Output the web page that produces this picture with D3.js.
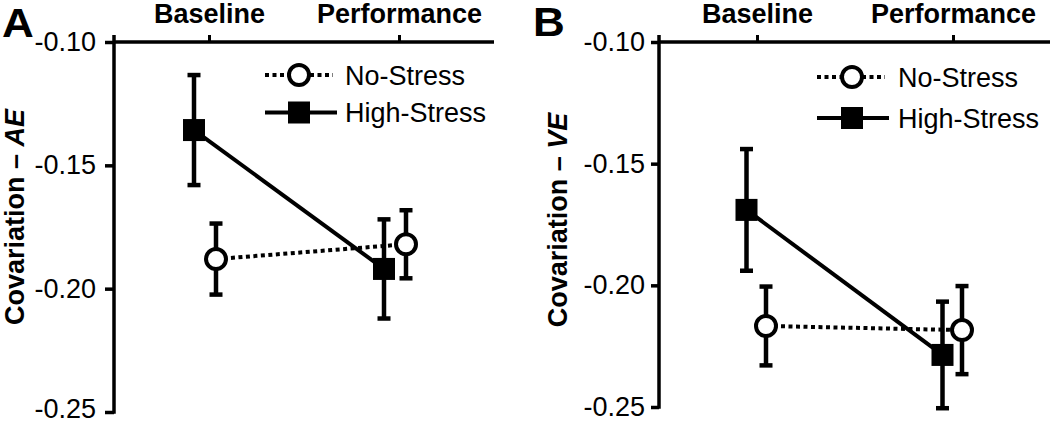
<!DOCTYPE html>
<html><head><meta charset="utf-8">
<script src="https://cdn.jsdelivr.net/npm/d3@7"></script>
<style>
body{margin:0;background:#fff}
text{font-family:"Liberation Sans",Arial,Helvetica,sans-serif;fill:#000}
</style>
</head><body>
<svg id="chart" width="1050" height="424"></svg>
<script>
// ---- data ----
const categories = ["Baseline", "Performance"];
const seriesNames = ["No-Stress", "High-Stress"];
const yTickValues = [-0.10, -0.15, -0.20, -0.25];
const aeNoStress = [-0.188, -0.182];
const aeNoStressErr = [0.0144, 0.0138];
const aeHighStress = [-0.1357, -0.192];
const aeHighStressErr = [0.0223, 0.0201];
const veNoStress = [-0.2167, -0.2184];
const veNoStressErr = [0.0162, 0.0181];
const veHighStress = [-0.169, -0.2286];
const veHighStressErr = [0.025, 0.0219];

// ---- layout ----
const panels = [
  {letter:"A", measure:"AE", ns:aeNoStress, nsErr:aeNoStressErr, hs:aeHighStress, hsErr:aeHighStressErr,
   axisX:114, top:42, bottom:412, right:494, cats:[209,399], dodgeHS:-15, dodgeNS:7,
   yTick:9, yPad:9, titleX:24, titleY:217, letterX:2, letterY:37,
   legX:265, legCircle:299, legTextX:345, legY:[75,112.5]},
  {letter:"B", measure:"VE", ns:veNoStress, nsErr:veNoStressErr, hs:veHighStress, hsErr:veHighStressErr,
   axisX:659, top:42, bottom:407, right:1050, cats:[757,953], dodgeHS:-10.5, dodgeNS:9,
   yTick:8, yPad:6, titleX:567, titleY:220, letterX:533, letterY:36,
   legX:817, legCircle:852, legTextX:898, legY:[77,118]}
];

const svg = d3.select("#chart");
svg.append("rect").attr("width",1050).attr("height",424).attr("fill","#fff");

panels.forEach(p => {
  const g = svg.append("g");
  const x = d3.scalePoint().domain(categories).range(p.cats);
  const y = d3.scaleLinear().domain([-0.10, -0.25]).range([p.top, p.bottom]);

  // top axis line
  g.append("line").attr("x1", p.axisX).attr("x2", p.right).attr("y1", p.top).attr("y2", p.top)
    .attr("stroke","#000").attr("stroke-width",3.5);
  // y axis line (extends above as tick)
  g.append("line").attr("x1", p.axisX).attr("x2", p.axisX).attr("y1", p.top-7).attr("y2", p.bottom+1.75)
    .attr("stroke","#000").attr("stroke-width",3.5);

  const xAxis = g.append("g").attr("transform",`translate(0,${p.top})`)
    .call(d3.axisTop(x).tickSize(7).tickPadding(12));
  xAxis.select(".domain").remove();
  xAxis.selectAll(".tick line").attr("stroke","#000").attr("stroke-width",3);
  xAxis.selectAll(".tick text").attr("font-size",27).attr("font-weight","bold")
    .attr("font-family",'"Liberation Sans",Arial,sans-serif').attr("fill","#000");

  const yAxis = g.append("g").attr("transform",`translate(${p.axisX},0)`)
    .call(d3.axisLeft(y).tickValues(yTickValues).tickFormat(d => d.toFixed(2)).tickSize(p.yTick).tickPadding(p.yPad));
  yAxis.select(".domain").remove();
  yAxis.selectAll(".tick line").attr("stroke","#000").attr("stroke-width",3.5);
  yAxis.selectAll(".tick text").attr("font-size",27)
    .attr("font-family",'"Liberation Sans",Arial,sans-serif').attr("fill","#000")
    .attr("dy", d => (y(d) > 409 ? "0.22em" : "0.32em"));

  // y title
  const t = g.append("text").attr("transform",`translate(${p.titleX},${p.titleY}) rotate(-90)`)
    .attr("text-anchor","middle").attr("font-size",27).attr("font-weight","bold");
  t.append("tspan").text("Covariation \u2013 ");
  t.append("tspan").attr("font-style","italic").text(p.measure);

  // panel letter
  g.append("text").attr("transform",`translate(${p.letterX},${p.letterY}) scale(1.1,1)`)
    .attr("font-size",40).attr("font-weight","bold").text(p.letter);

  const nsPts = categories.map((c,i) => ({x:x(c)+p.dodgeNS, v:p.ns[i], e:p.nsErr[i]}));
  const hsPts = categories.map((c,i) => ({x:x(c)+p.dodgeHS, v:p.hs[i], e:p.hsErr[i]}));
  const line = d3.line().x(d => d.x).y(d => y(d.v));

  // No-stress dotted line
  g.append("path").datum(nsPts).attr("d",line).attr("fill","none").attr("stroke","#000")
    .attr("stroke-width",4).attr("stroke-dasharray","4,3.5");
  // High-stress solid line
  g.append("path").datum(hsPts).attr("d",line).attr("fill","none").attr("stroke","#000").attr("stroke-width",4);

  // error bars
  [nsPts, hsPts].forEach(pts => {
    pts.forEach(d => {
      g.append("line").attr("x1",d.x).attr("x2",d.x).attr("y1",y(d.v+d.e)).attr("y2",y(d.v-d.e))
        .attr("stroke","#000").attr("stroke-width",4.5);
      [d.v+d.e, d.v-d.e].forEach(vv => {
        g.append("line").attr("x1",d.x-6.5).attr("x2",d.x+6.5).attr("y1",y(vv)).attr("y2",y(vv))
          .attr("stroke","#000").attr("stroke-width",4.5);
      });
    });
  });

  // markers
  g.selectAll(".ns").data(nsPts).enter().append("circle")
    .attr("cx",d=>d.x).attr("cy",d=>y(d.v)).attr("r",10).attr("fill","#fff").attr("stroke","#000").attr("stroke-width",4);
  g.selectAll(".hs").data(hsPts).enter().append("rect")
    .attr("x",d=>d.x-11).attr("y",d=>y(d.v)-11).attr("width",22).attr("height",22).attr("fill","#000");

  // legend
  const ly0 = p.legY[0], ly1 = p.legY[1];
  g.append("line").attr("x1",p.legX).attr("x2",p.legX+68).attr("y1",ly0).attr("y2",ly0)
    .attr("stroke","#000").attr("stroke-width",4).attr("stroke-dasharray","4,3.5");
  g.append("circle").attr("cx",p.legCircle).attr("cy",ly0).attr("r",10).attr("fill","#fff").attr("stroke","#000").attr("stroke-width",4);
  g.append("text").attr("x",p.legTextX).attr("y",ly0).attr("dy","0.36em").attr("font-size",27).text(seriesNames[0]);
  g.append("line").attr("x1",p.legX).attr("x2",p.legX+72).attr("y1",ly1).attr("y2",ly1)
    .attr("stroke","#000").attr("stroke-width",4);
  g.append("rect").attr("x",p.legCircle-11).attr("y",ly1-11).attr("width",22).attr("height",22).attr("fill","#000");
  g.append("text").attr("x",p.legTextX).attr("y",ly1).attr("dy","0.36em").attr("font-size",27).text(seriesNames[1]);
});
</script>
</body></html>
